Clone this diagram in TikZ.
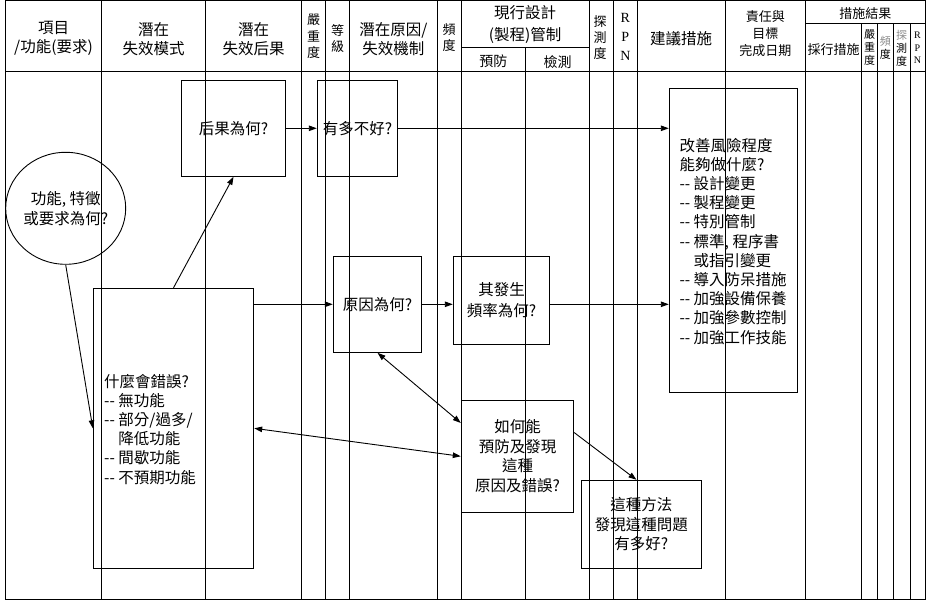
\documentclass[tikz,border=0pt]{standalone}
\usepackage{fontspec}
\setmainfont{Noto Sans CJK TC}
\newfontfamily\latinserif{Liberation Serif}
\usetikzlibrary{arrows.meta,shapes.geometric,calc}
\newcommand\fsz[2]{\fontsize{#1}{#2}\selectfont}
\newcommand\dd{-\kern0pt-}
\begin{document}
\begin{tikzpicture}[x=1pt,y=-1pt,
  gl/.style={line width=1pt},
  qbox/.style={draw, rectangle, line width=1pt, inner sep=0pt, align=center, font=\fsz{15.5}{19.2}},
  txt/.style={inner sep=0pt, align=center},
  hd/.style={txt, font=\fsz{15.5}{19}},
  hs/.style={txt, font=\fsz{13}{16.5}},
  ht/.style={txt, font=\fsz{11}{13}},
  arr/.style={line width=0.9pt, -{Triangle[length=8pt,width=5.5pt]}},
  darr/.style={line width=0.9pt, {Triangle[length=8pt,width=5.5pt]}-{Triangle[length=8pt,width=5.5pt]}}]
\useasboundingbox (0,0) rectangle (928,601);
\fill[white] (0,0) rectangle (928,601);
% grid
\draw[gl] (5.3,1) rectangle (925,599.3);
\draw[gl] (5.3,72) -- (925,72);
\foreach \x in {101.7,205.7,301.7,325.7,349.3,437.3,461,589.3,613.3,637.3,725,805.7}
  \draw[gl] (\x,1) -- (\x,599.3);
\draw[gl] (461,48) -- (589.3,48);
\draw[gl] (525.7,48) -- (525.7,599.3);
\draw[gl] (805.7,24) -- (925,24);
\foreach \x in {861.7,877.7,893,910}
  \draw[gl] (\x,24) -- (\x,599.3);
% header
\node[hd] (h1) at (53.5,38.8) {項目\\/功能(要求)};
\node[hd] (h2) at (153.7,38.8) {潛在\\失效模式};
\node[hd] (h3) at (253.7,38.8) {潛在\\失效后果};
\node[hs] (h4) at (313.7,36.7) {嚴\\重\\度};
\node[hs, font=\fsz{13}{16}] (h5) at (337.5,38.7) {等\\級};
\node[hd] (h6) at (393.3,38.8) {潛在原因/\\失效機制};
\node[hs, font=\fsz{13}{16}] (h7) at (449.2,38) {頻\\度};
\node[hd, font=\fsz{15.5}{21.7}] (h8) at (525.2,24.2) {現行設計\\(製程)管制};
\node[hd, font=\fsz{14}{17}] (h9) at (493.3,61.7) {預防};
\node[hd, font=\fsz{14}{17}] (h10) at (557.5,61.7) {檢測};
\node[hs, font=\fsz{13}{16}] (h11) at (600,37.4) {探\\測\\度};
\node[txt, font=\latinserif\fsz{14}{18.8}] (h12) at (625.3,37) {R\\P\\N};
\node[hd] (h13) at (681.2,38.3) {建議措施};
\node[hs, font=\fsz{13}{17}] (h14) at (765.3,33.6) {責任與\\目標\\完成日期};
\node[hs] (h15) at (865.3,13.3) {措施結果};
\node[hs] (h16) at (833.7,50) {採行措施};
\node[ht] (h17) at (869.7,48) {嚴\\重\\度};
\node[ht] (h18) at (885.3,48) {{\color{black!45}頻}\\度};
\node[ht] (h19) at (901.5,48) {{\color{black!45}探}\\測\\度};
\node[txt, font=\latinserif\fsz{10}{12.7}] (h20) at (917.5,48) {R\\P\\N};
% boxes
\node[qbox, minimum width=104.4pt, minimum height=96pt] (A) at (233.5,128.3) {后果為何?};
\node[qbox, minimum width=80.4pt, minimum height=96pt] (B) at (357.5,128.3) {有多不好?};
\node[draw, ellipse, line width=0.9pt, minimum width=119.3pt, minimum height=112pt, inner sep=0pt, align=center, font=\fsz{15.5}{20}] (C) at (65.7,208.3) {功能, 特徵\\或要求為何?};
\node[qbox, minimum width=160.4pt, minimum height=280pt] (D) at (173.5,428.3) {};
\node[txt, align=left, anchor=west, font=\fsz{15.5}{19.2}] (Dt) at (104,429.2)
  {什麼會錯誤?\\\dd{} 無功能\\\dd{} 部分/過多/\\\phantom{\dd{} }降低功能\\\dd{} 間歇功能\\\dd{} 不預期功能};
\node[qbox, minimum width=88.4pt, minimum height=96pt] (E) at (377.5,304.3) {原因為何?};
\node[qbox, minimum width=96.4pt, minimum height=88pt, font=\fsz{15.5}{21}] (F) at (501.5,300.3) {其發生\\頻率為何?};
\node[qbox, minimum width=128.4pt, minimum height=304pt] (G) at (733.5,240.3) {};
\node[txt, align=left, anchor=west, font=\fsz{15.5}{19.2}] (Gt) at (679.3,241.2)
  {改善風險程度\\能夠做什麼?\\\dd{} 設計變更\\\dd{} 製程變更\\\dd{} 特別管制\\\dd{} 標準, 程序書\\\phantom{\dd{} }或指引變更\\\dd{} 導入防呆措施\\\dd{} 加強設備保養\\\dd{} 加強參數控制\\\dd{} 加強工作技能};
\node[qbox, minimum width=112.4pt, minimum height=112pt, font=\fsz{15.5}{19.5}] (H) at (517.5,456.3) {如何能\\預防及發現\\這種\\原因及錯誤?};
\node[qbox, minimum width=120pt, minimum height=88pt, font=\fsz{15.5}{19.5}] (I) at (641.3,524.3) {這種方法\\發現這種問題\\有多好?};
% connectors
\draw[arr] (A.east) -- (B.west);
\draw[arr] (B.east) -- (B.east -| G.west);
\draw[arr] (C.south) -- (D.west);
\draw[arr] (D.north) -- (A.south);
\draw[arr] (D.east |- E.west) -- (E.west);
\draw[arr] (E.east) -- (E.east -| F.west);
\draw[arr] (E.east -| F.east) -- (E.east -| G.west);
\draw[darr] (E.south) -- ($(H.north west)!0.205!(H.south west)$);
\draw[darr] (D.east) -- (H.west);
\draw[arr] ($(H.north east)!0.29!(H.south east)$) -- ($(I.north west)!0.46!(I.north east)$);
\end{tikzpicture}
\end{document}
